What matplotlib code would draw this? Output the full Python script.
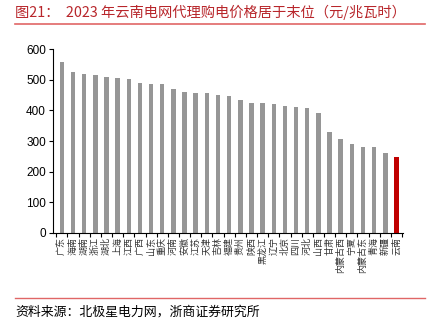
import numpy as np
import matplotlib
matplotlib.use("Agg")
from matplotlib import pyplot as plt
from matplotlib.lines import Line2D

plt.rcParams['font.family'] = ['Noto Sans CJK SC', 'DejaVu Sans']

provinces = ["广东", "海南", "湖南", "浙江", "湖北", "上海", "江西", "广西", "山东", "重庆",
             "河南", "安徽", "江苏", "天津", "吉林", "福建", "贵州", "陕西", "黑龙江", "辽宁",
             "北京", "四川", "河北", "山西", "甘肃", "内蒙古西", "宁夏", "内蒙古东", "青海", "新疆", "云南"]
prices = [558, 525, 520, 514, 510, 504, 502, 488, 487, 485,
          469, 460, 458, 456, 449, 447, 433, 425, 423, 422,
          413, 410, 409, 393, 328, 306, 289, 280, 279, 261, 249]
highlight = "云南"

fig = plt.figure(figsize=(4.34, 3.27), dpi=100)
ax = fig.add_axes([0.122, 0.2875, 0.807, 0.5625])

x = np.arange(len(provinces))
colors = ["#C00000" if p == highlight else "#969696" for p in provinces]
ax.bar(x, prices, width=0.4, color=colors)

ax.set_ylim(0, 600)
ax.set_xlim(-0.8, len(provinces) - 0.4)
ax.set_yticks(range(0, 601, 100))
ax.tick_params(axis='y', labelsize=8.5, length=3, width=0.8, pad=2, labelfontfamily='Liberation Sans')
ax.set_xticks(x)
ax.set_xticklabels(provinces, rotation=90, fontsize=6.5, va='top', ha='center', color='#333333')
ax.tick_params(axis='x', length=0, pad=3)
ax.set_xticks(np.arange(-0.5, len(provinces), 1), minor=True)
ax.tick_params(axis='x', which='minor', length=3, width=0.8)
for s in ['top', 'right']:
    ax.spines[s].set_visible(False)
ax.spines['left'].set_linewidth(0.8)
ax.spines['bottom'].set_linewidth(0.8)

fig.text(15 / 434, 1 - 12 / 327, "图21：  2023 年云南电网代理购电价格居于末位（元/兆瓦时）",
         color="#B8262B", fontsize=10.3, va='center', ha='left')
fig.add_artist(Line2D([15 / 434, 425 / 434], [1 - 24 / 327, 1 - 24 / 327],
                      color="#E06666", lw=1.2, transform=fig.transFigure))
fig.add_artist(Line2D([15 / 434, 425 / 434], [1 - 298 / 327, 1 - 298 / 327],
                      color="#E06666", lw=1.0, transform=fig.transFigure))
fig.text(15 / 434, 1 - 312 / 327, "资料来源：北极星电力网，浙商证券研究所",
         color="black", fontsize=9.3, va='center', ha='left')

fig.savefig("out.png", dpi=100)
